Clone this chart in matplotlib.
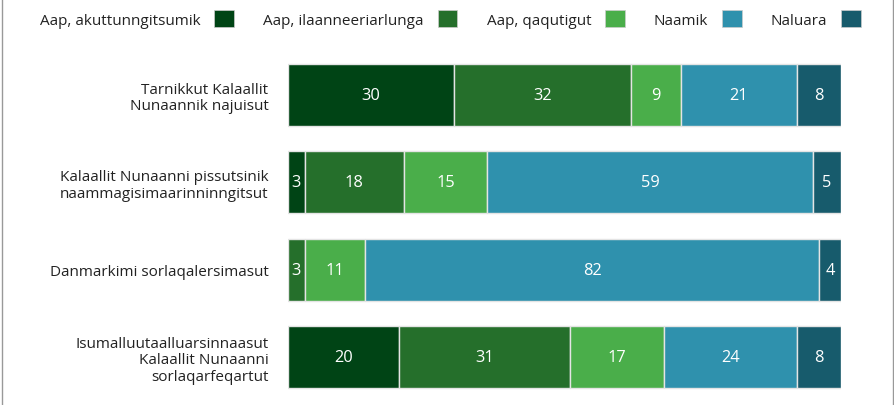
import matplotlib
matplotlib.use("Agg")
import matplotlib.pyplot as plt
from matplotlib.patches import Patch
from matplotlib.lines import Line2D

plt.rcParams['font.family'] = ['Open Sans', 'DejaVu Sans']

categories = [
    "Tarnikkut Kalaallit\nNunaannik najuisut",
    "Kalaallit Nunaanni pissutsinik\nnaammagisimaarinninngitsut",
    "Danmarkimi sorlaqalersimasut",
    "Isumalluutaalluarsinnaasut\nKalaallit Nunaanni\nsorlaqarfeqartut",
]
series_names = ["Aap, akuttunngitsumik", "Aap, ilaanneeriarlunga", "Aap, qaqutigut", "Naamik", "Naluara"]
akuttunngitsumik = [30, 3, 0, 20]
ilaanneeriarlunga = [32, 18, 3, 31]
qaqutigut = [9, 15, 11, 17]
naamik = [21, 59, 82, 24]
naluara = [8, 5, 4, 8]
colors = ["#004415", "#256f2b", "#4aae4a", "#2f91ad", "#175b6c"]

series = [akuttunngitsumik, ilaanneeriarlunga, qaqutigut, naamik, naluara]

fig = plt.figure(figsize=(8.94, 4.06), dpi=100)
ax = fig.add_axes([288/894, 1-401.7/406, (841-288)/894, (401.7-52.3)/406])

ypos = list(range(len(categories)))
left = [0]*len(categories)
for name, vals, c in zip(series_names, series, colors):
    bars = ax.barh(ypos, vals, left=left, height=0.71, color=c, edgecolor="#e4e4e4",
                   linewidth=1.0, label=name)
    labels = [str(v) if v > 0 else "" for v in vals]
    ax.bar_label(bars, labels=labels, label_type="center", color="white", fontsize=11.8)
    left = [l + v for l, v in zip(left, vals)]

ax.set_xlim(0, 100)
ax.set_ylim(3.5, -0.5)
ax.set_yticks(ypos)
ax.set_yticklabels(categories, fontsize=11, color="#222222", ha="right", linespacing=1.12)
ax.tick_params(axis="y", length=0, pad=14)
ax.set_xticks([])
for s in ax.spines.values():
    s.set_visible(False)

handles = [Patch(facecolor=c, edgecolor="#cccccc", linewidth=0.5) for c in colors]
fig.legend(handles, series_names, loc="center left", bbox_to_anchor=(34/894, 1-20/406),
           ncol=5, frameon=False, markerfirst=False, fontsize=11,
           handlelength=1.3, handleheight=1.3, handletextpad=0.9, columnspacing=1.9,
           labelcolor="#222222", borderaxespad=0)

fig.add_artist(Line2D([2/894, 2/894], [0, 1], transform=fig.transFigure, color="#999999", lw=1))
fig.add_artist(Line2D([892.5/894, 892.5/894], [0, 1], transform=fig.transFigure, color="#999999", lw=1))

fig.savefig("out.png", dpi=100)
